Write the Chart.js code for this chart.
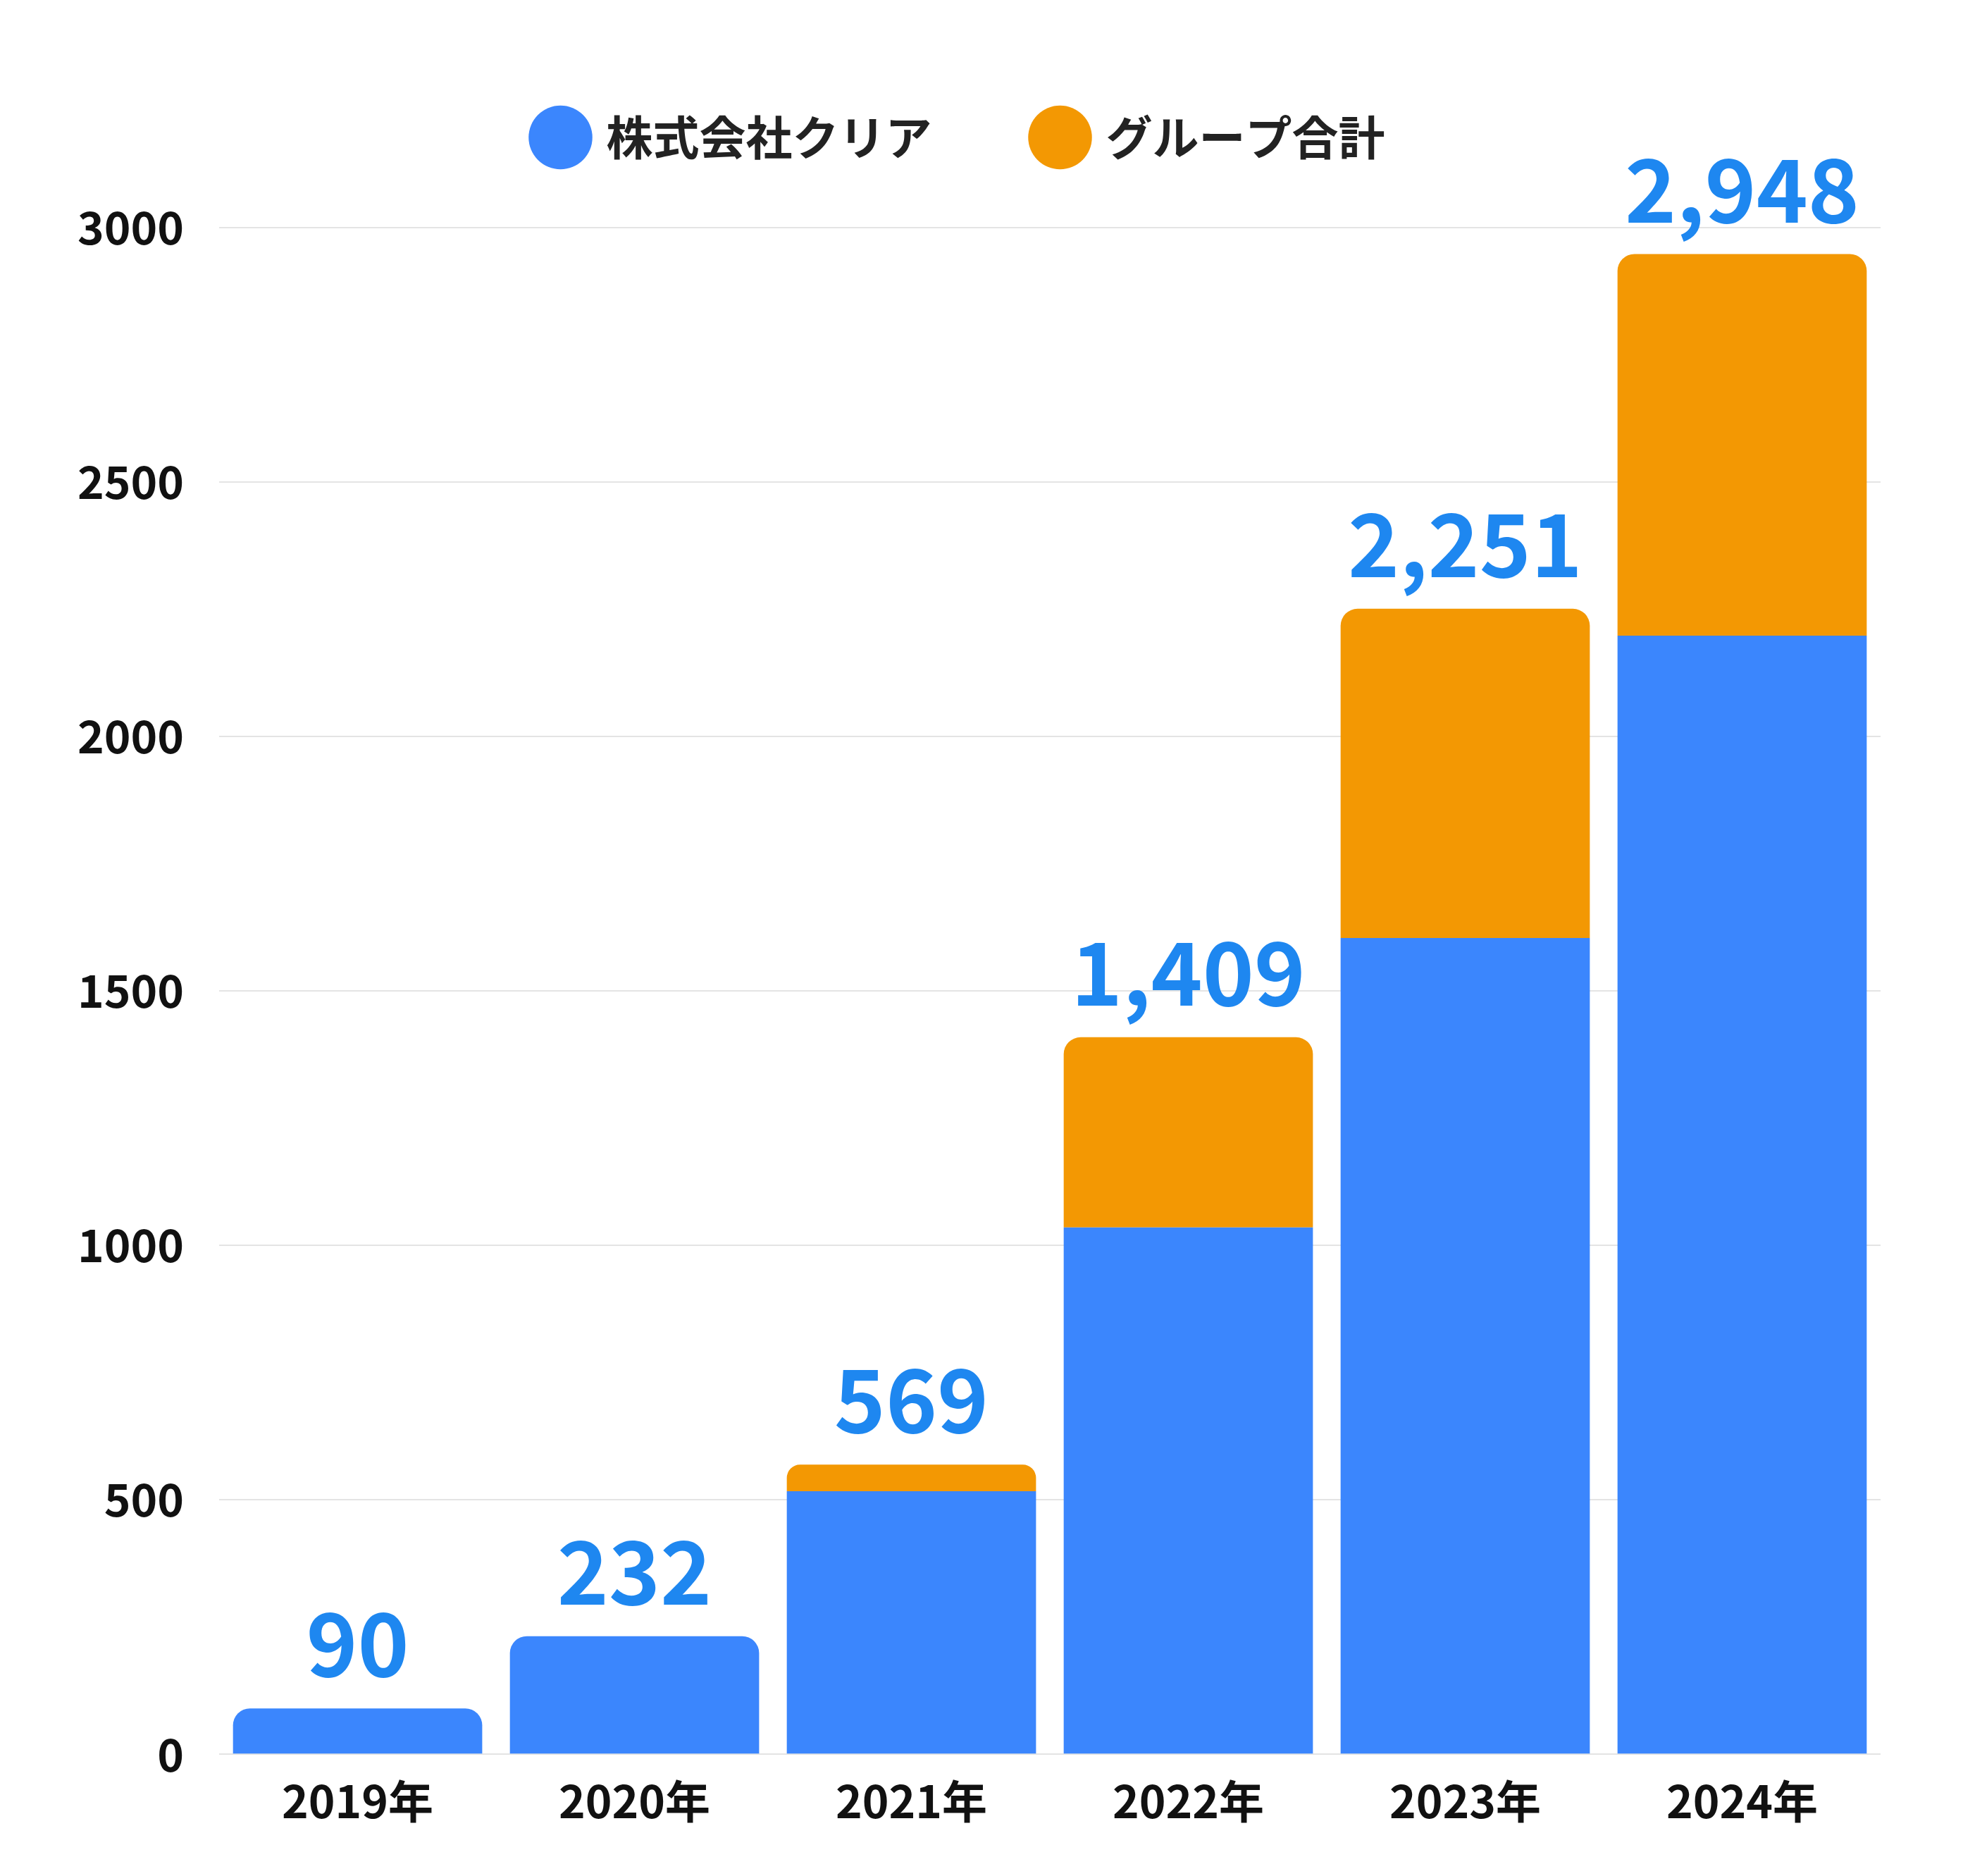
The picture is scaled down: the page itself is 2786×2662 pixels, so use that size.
<!DOCTYPE html>
<html><head><meta charset="utf-8">
<script src="https://cdn.jsdelivr.net/npm/chart.js@4"></script>
<style>html,body{margin:0;background:#fff}</style>
</head><body>
<canvas id="c" width="2786" height="2662"></canvas>
<script>
const years = ['2019年','2020年','2021年','2022年','2023年','2024年'];
const clearValues = [90, 232, 517, 1035, 1604, 2198];
const groupExtra = [0, 0, 52, 374, 647, 750];
const totals = [90, 232, 569, 1409, 2251, 2948];
const F = '"Noto Sans CJK JP","Noto Sans",sans-serif';
const R = 24;
const totalLabels = {
  id: 'totalLabels',
  afterDatasetsDraw(chart) {
    const ctx = chart.ctx, y = chart.scales.y;
    const m0 = chart.getDatasetMeta(0);
    ctx.save();
    ctx.fillStyle = '#1e87f0';
    ctx.font = 'bold 124px ' + F;
    ctx.textAlign = 'center';
    ctx.textBaseline = 'bottom';
    totals.forEach((t, i) => {
      ctx.fillText(t.toLocaleString('en-US'), m0.data[i].x, y.getPixelForValue(t) - 30);
    });
    ctx.restore();
  }
};
const legendGap = {
  id: 'legendGap',
  beforeInit(chart) {
    const orig = chart.legend.fit;
    chart.legend.fit = function() { orig.bind(chart.legend)(); this.height += 85; };
  }
};
new Chart(document.getElementById('c'), {
  type: 'bar',
  data: {
    labels: years,
    datasets: [
      { label: '株式会社クリア', data: clearValues, backgroundColor: '#3b86fd',
        borderSkipped: false,
        borderRadius: c => groupExtra[c.dataIndex] > 0 ? 0 : {topLeft: R, topRight: R, bottomLeft: 0, bottomRight: 0} },
      { label: 'グループ合計', data: groupExtra, backgroundColor: '#f39803',
        borderSkipped: false,
        borderRadius: {topLeft: R, topRight: R, bottomLeft: 0, bottomRight: 0} }
    ]
  },
  options: {
    responsive: false, devicePixelRatio: 1, animation: false,
    layout: { padding: { top: 12, right: 117, bottom: 48, left: 60 } },
    datasets: { bar: { barPercentage: 0.9, categoryPercentage: 1 } },
    plugins: {
      legend: {
        labels: { usePointStyle: true, pointStyle: 'circle', boxWidth: 64, boxHeight: 64,
          padding: 150, color: '#222', font: { family: F, size: 66, weight: 'bold' } }
      },
      tooltip: { enabled: false }
    },
    scales: {
      x: { stacked: true, grid: { display: false }, border: { display: false },
        ticks: { color: '#111', padding: 20, font: { family: F, size: 64, weight: 'bold' } } },
      y: { stacked: true, min: 0, max: 3000, border: { display: false },
        grid: { color: '#e4e4e4', lineWidth: 2, drawTicks: false },
        ticks: { stepSize: 500, color: '#111', padding: 50, callback: v => String(v),
          font: { family: F, size: 64, weight: 'bold' } } }
    }
  },
  plugins: [totalLabels, legendGap]
});
</script>
</body></html>
